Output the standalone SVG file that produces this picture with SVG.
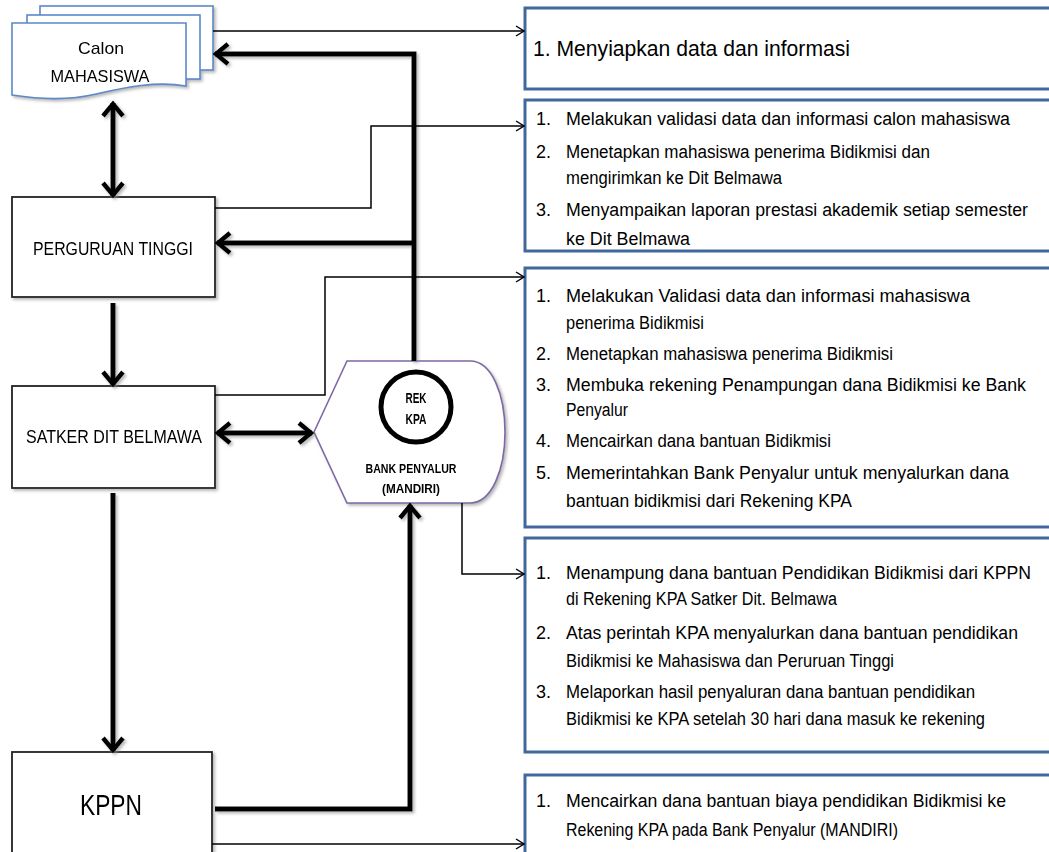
<svg xmlns="http://www.w3.org/2000/svg" width="1049" height="852" viewBox="0 0 1049 852">
<style>
.bg{fill:#fff}
.box{fill:#fff;stroke:#222;stroke-width:1.8}
.doc{fill:#fff;stroke:#5b89c9;stroke-width:1.6}
.bank{fill:#fff;stroke:#7d69a6;stroke-width:1.6}
.info{fill:#fff;stroke:#41689b;stroke-width:3}
.thick{fill:none;stroke:#000;stroke-width:5}
.thin{fill:none;stroke:#000;stroke-width:1.5}
.t{font-family:"Liberation Sans",Arial,sans-serif;fill:#000}
.lt{font-size:18px;text-anchor:middle}
.bt{font-size:18px}
.bk{font-size:13px;font-weight:bold;text-anchor:middle}
</style>
<defs>
<filter id="sh" x="-10%" y="-10%" width="130%" height="130%">
<feDropShadow dx="2" dy="2" stdDeviation="1.5" flood-color="#888" flood-opacity="0.6"/>
</filter>
<marker id="ah" markerUnits="userSpaceOnUse" viewBox="0 0 24 24" markerWidth="24" markerHeight="24" refX="21" refY="12" orient="auto-start-reverse">
<path d="M8,2 L20,12 L8,22" fill="none" stroke="#000" stroke-width="4.5" stroke-linejoin="miter"/>
</marker>
<marker id="at" markerUnits="userSpaceOnUse" viewBox="0 0 12 12" markerWidth="12" markerHeight="12" refX="11" refY="6" orient="auto">
<path d="M3,1 L11,6 L3,11" fill="none" stroke="#000" stroke-width="1.4"/>
</marker>
</defs>
<rect class="bg" x="0" y="0" width="1049" height="852"/>

<g id="calon-mahasiswa" filter="url(#sh)">
<rect class="doc" x="40" y="6" width="173" height="64"/>
<rect class="doc" x="27" y="15" width="173" height="64"/>
<path class="doc" d="M12,23 H186 V86 C156,81 126,87 96,94 C66,101 40,99 12,95 Z"/>
<text class="t lt" x="101" y="54" style="font-size:17px" textLength="46" lengthAdjust="spacingAndGlyphs">Calon</text>
<text class="t lt" x="100" y="82" style="font-size:17px" textLength="99" lengthAdjust="spacingAndGlyphs">MAHASISWA</text>
</g>

<g id="perguruan-tinggi" filter="url(#sh)">
<rect class="box" x="12" y="197" width="203" height="100"/>
<text class="t lt" x="113" y="255" textLength="160" lengthAdjust="spacingAndGlyphs">PERGURUAN TINGGI</text>
</g>

<g id="satker-dit-belmawa" filter="url(#sh)">
<rect class="box" x="12" y="386" width="203" height="102"/>
<text class="t lt" x="114" y="443" textLength="176" lengthAdjust="spacingAndGlyphs">SATKER DIT BELMAWA</text>
</g>

<g id="kppn" filter="url(#sh)">
<rect class="box" x="12" y="752" width="200" height="110"/>
<text class="t" x="80" y="815" style="font-size:30px" textLength="62" lengthAdjust="spacingAndGlyphs">KPPN</text>
</g>

<g id="bank-penyalur" filter="url(#sh)">
<path class="bank" d="M314,432 L347,361 H470 C492,361 505,395 505,432 C505,469 492,503 470,503 H347 Z"/>
<circle cx="416" cy="407" r="35" fill="#fff" stroke="#000" stroke-width="5"/>
<text class="t bk" x="416" y="403" style="font-size:14px" textLength="21" lengthAdjust="spacingAndGlyphs">REK</text>
<text class="t bk" x="416" y="424" style="font-size:14px" textLength="21" lengthAdjust="spacingAndGlyphs">KPA</text>
<text class="t bk" x="411" y="473" textLength="91" lengthAdjust="spacingAndGlyphs">BANK PENYALUR</text>
<text class="t bk" x="411" y="493" textLength="58" lengthAdjust="spacingAndGlyphs">(MANDIRI)</text>
</g>

<g id="info-calon">
<rect class="info" x="525" y="8" width="540" height="81"/>
<text class="t" x="533" y="56" style="font-size:22px" textLength="317" lengthAdjust="spacingAndGlyphs">1. Menyiapkan data dan informasi</text>
</g>

<g id="info-pt">
<rect class="info" x="525" y="100" width="540" height="151"/>
<text class="t bt" x="536" y="125">1.</text>
<text class="t bt" x="566" y="125" textLength="444" lengthAdjust="spacingAndGlyphs">Melakukan validasi data dan informasi  calon mahasiswa</text>
<text class="t bt" x="536" y="158">2.</text>
<text class="t bt" x="566" y="158" textLength="364" lengthAdjust="spacingAndGlyphs">Menetapkan mahasiswa penerima Bidikmisi  dan</text>
<text class="t bt" x="566" y="184" textLength="216" lengthAdjust="spacingAndGlyphs">mengirimkan ke Dit Belmawa</text>
<text class="t bt" x="536" y="216">3.</text>
<text class="t bt" x="566" y="216" textLength="462" lengthAdjust="spacingAndGlyphs">Menyampaikan laporan prestasi akademik setiap semester</text>
<text class="t bt" x="566" y="245" textLength="124" lengthAdjust="spacingAndGlyphs">ke Dit Belmawa</text>
</g>

<g id="info-satker">
<rect class="info" x="525" y="268" width="540" height="259"/>
<text class="t bt" x="536" y="302">1.</text>
<text class="t bt" x="566" y="302" textLength="404" lengthAdjust="spacingAndGlyphs">Melakukan Validasi  data dan informasi  mahasiswa</text>
<text class="t bt" x="566" y="329" textLength="138" lengthAdjust="spacingAndGlyphs">penerima Bidikmisi</text>
<text class="t bt" x="536" y="360">2.</text>
<text class="t bt" x="566" y="360" textLength="327" lengthAdjust="spacingAndGlyphs">Menetapkan mahasiswa penerima Bidikmisi</text>
<text class="t bt" x="536" y="391">3.</text>
<text class="t bt" x="566" y="391" textLength="460" lengthAdjust="spacingAndGlyphs">Membuka rekening Penampungan dana  Bidikmisi ke Bank</text>
<text class="t bt" x="566" y="416" textLength="62" lengthAdjust="spacingAndGlyphs">Penyalur</text>
<text class="t bt" x="536" y="447">4.</text>
<text class="t bt" x="566" y="447" textLength="265" lengthAdjust="spacingAndGlyphs">Mencairkan dana bantuan Bidikmisi</text>
<text class="t bt" x="536" y="479">5.</text>
<text class="t bt" x="566" y="479" textLength="443" lengthAdjust="spacingAndGlyphs">Memerintahkan Bank Penyalur untuk menyalurkan dana</text>
<text class="t bt" x="566" y="507" textLength="286" lengthAdjust="spacingAndGlyphs">bantuan bidikmisi dari Rekening KPA</text>
</g>

<g id="info-bank">
<rect class="info" x="525" y="538" width="540" height="214"/>
<text class="t bt" x="536" y="579">1.</text>
<text class="t bt" x="566" y="579" textLength="465" lengthAdjust="spacingAndGlyphs">Menampung dana bantuan Pendidikan Bidikmisi dari KPPN</text>
<text class="t bt" x="566" y="605" textLength="271" lengthAdjust="spacingAndGlyphs">di Rekening KPA Satker Dit. Belmawa</text>
<text class="t bt" x="536" y="639">2.</text>
<text class="t bt" x="566" y="639" textLength="452" lengthAdjust="spacingAndGlyphs">Atas perintah KPA menyalurkan dana bantuan pendidikan</text>
<text class="t bt" x="566" y="667" textLength="328" lengthAdjust="spacingAndGlyphs">Bidikmisi ke Mahasiswa dan Peruruan Tinggi</text>
<text class="t bt" x="536" y="698">3.</text>
<text class="t bt" x="566" y="698" textLength="409" lengthAdjust="spacingAndGlyphs">Melaporkan hasil penyaluran dana bantuan pendidikan</text>
<text class="t bt" x="566" y="725" textLength="419" lengthAdjust="spacingAndGlyphs">Bidikmisi ke KPA setelah 30 hari dana masuk ke rekening</text>
</g>

<g id="info-kppn">
<rect class="info" x="525" y="775" width="540" height="100"/>
<text class="t bt" x="536" y="807">1.</text>
<text class="t bt" x="566" y="807" textLength="440" lengthAdjust="spacingAndGlyphs">Mencairkan dana bantuan biaya pendidikan Bidikmisi ke</text>
<text class="t bt" x="566" y="836" textLength="332" lengthAdjust="spacingAndGlyphs">Rekening KPA pada Bank Penyalur (MANDIRI)</text>
</g>

<g id="connectors">
<g filter="url(#sh)">
<path class="thick" d="M414,361 V54 H215" marker-end="url(#ah)"/>
<path class="thick" d="M414,243 H217" marker-end="url(#ah)"/>
<path class="thick" d="M113,103 V196" marker-start="url(#ah)" marker-end="url(#ah)"/>
<path class="thick" d="M113,303 V385" marker-end="url(#ah)"/>
<path class="thick" d="M113,493 V751" marker-end="url(#ah)"/>
<path class="thick" d="M217,433 H312" marker-start="url(#ah)" marker-end="url(#ah)"/>
<path class="thick" d="M215,809 H410 V505" marker-end="url(#ah)"/>
</g>
<path class="thin" d="M213,31 H524" marker-end="url(#at)"/>
<path class="thin" d="M215,208 H371 V126 H524" marker-end="url(#at)"/>
<path class="thin" d="M215,395 H325 V277 H524" marker-end="url(#at)"/>
<path class="thin" d="M462,503 V574 H524" marker-end="url(#at)"/>
<path class="thin" d="M212,844 H524" marker-end="url(#at)"/>
</g>
</svg>
